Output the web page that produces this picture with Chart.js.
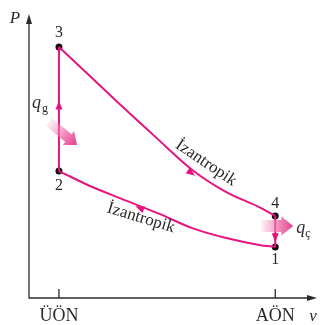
<!DOCTYPE html>
<html>
<head>
<meta charset="utf-8">
<script src="https://cdn.jsdelivr.net/npm/chart.js@4.4.1/dist/chart.umd.min.js"></script>
<style>
  html, body { margin: 0; padding: 0; background: #fff; }
  #wrap { width: 321px; height: 325px; }
</style>
</head>
<body>
<div id="wrap"><canvas id="cycle"></canvas></div>
<script>
// ── Otto çevrimi P-v diyagramı ──
const vTicks = [1.04, 8.55];
const vTickLabels = ['ÜÖN', 'AÖN'];

// 3 → 4 izantropik genişleme
const expV = [1.04, 2.04, 3.22, 4.36, 5.67, 6.85, 7.99, 8.55];
const expP = [8.84, 7.89, 6.76, 5.70, 4.51, 3.73, 3.20, 2.89];

// 1 → 2 izantropik sıkıştırma
const compV = [1.04, 2.04, 3.22, 4.53, 5.67, 6.85, 7.99, 8.55];
const compP = [4.47, 3.98, 3.49, 2.96, 2.46, 2.11, 1.87, 1.80];

// hal noktaları
const stateV = [8.55, 1.04, 1.04, 8.55];
const stateP = [1.80, 4.47, 8.84, 2.89];
const stateLabels = ['1', '2', '3', '4'];

// akış yönü okları (konum + yön)
const flowV = [1.04, 5.64, 8.55, 3.84];
const flowP = [6.80, 4.40, 2.12, 3.17];
const flowDv = [0, 1, 0, -1];
const flowDP = [1, -0.76, -1, 0.41];

const PINK = '#e6147f';
const INK = '#2b2b2b';
const SERIF = "'Liberation Serif', 'Times New Roman', Times, serif";

const pts = (xs, ys) => xs.map((x, i) => ({ x: x, y: ys[i] }));

function tri(ctx, x, y, ang, len, half) {
  ctx.save();
  ctx.translate(x, y);
  ctx.rotate(ang);
  ctx.beginPath();
  ctx.moveTo(len / 2, 0);
  ctx.lineTo(-len / 2, -half);
  ctx.lineTo(-len / 2, half);
  ctx.closePath();
  ctx.fill();
  ctx.restore();
}

// kalın, renk geçişli ısı okları
function heatArrow(ctx, x0, y0, x1, y1, shaft, head, headLen) {
  const ang = Math.atan2(y1 - y0, x1 - x0);
  const L = Math.hypot(x1 - x0, y1 - y0);
  ctx.save();
  ctx.translate(x0, y0);
  ctx.rotate(ang);
  const g = ctx.createLinearGradient(0, 0, L, 0);
  g.addColorStop(0, 'rgba(240, 150, 195, 0.15)');
  g.addColorStop(0.55, 'rgba(236, 110, 170, 0.8)');
  g.addColorStop(1, 'rgba(228, 60, 140, 1)');
  ctx.fillStyle = g;
  ctx.beginPath();
  ctx.moveTo(0, -shaft / 2);
  ctx.lineTo(L - headLen, -shaft / 2);
  ctx.lineTo(L - headLen, -head / 2);
  ctx.lineTo(L, 0);
  ctx.lineTo(L - headLen, head / 2);
  ctx.lineTo(L - headLen, shaft / 2);
  ctx.lineTo(0, shaft / 2);
  ctx.closePath();
  ctx.fill();
  ctx.restore();
}

const axesPlugin = {
  id: 'axesPlugin',
  beforeDatasetsDraw(chart) {
    const { ctx, chartArea: a, scales: { x } } = chart;
    ctx.save();
    ctx.strokeStyle = INK;
    ctx.fillStyle = INK;
    ctx.lineWidth = 1.3;
    ctx.beginPath();
    ctx.moveTo(a.left, a.top + 4);
    ctx.lineTo(a.left, a.bottom);
    ctx.lineTo(a.right - 4, a.bottom);
    ctx.stroke();
    tri(ctx, a.left, a.top + 5, -Math.PI / 2, 10, 3);
    tri(ctx, a.right - 5, a.bottom, 0, 10, 3);
    // ÜÖN / AÖN çentikleri
    vTicks.forEach(v => {
      const px = x.getPixelForValue(v);
      ctx.beginPath();
      ctx.moveTo(px, a.bottom);
      ctx.lineTo(px, a.bottom - 9);
      ctx.stroke();
    });
    ctx.font = 'italic 17px ' + SERIF;
    ctx.textAlign = 'center';
    ctx.textBaseline = 'alphabetic';
    ctx.fillText('P', 15, 23);
    ctx.fillText('v', a.right - 4, 321);
    ctx.restore();
  },
  afterDatasetsDraw(chart) {
    const { ctx, scales: { x, y } } = chart;
    ctx.save();
    // akış okları
    ctx.fillStyle = PINK;
    flowV.forEach((v, i) => {
      const px = x.getPixelForValue(v), py = y.getPixelForValue(flowP[i]);
      const dx = x.getPixelForValue(v + flowDv[i]) - px;
      const dy = y.getPixelForValue(flowP[i] + flowDP[i]) - py;
      tri(ctx, px, py, Math.atan2(dy, dx), 9, 3.5);
    });

    // ısı okları
    const xU = x.getPixelForValue(vTicks[0]);
    const xA = x.getPixelForValue(vTicks[1]);
    heatArrow(ctx, xU - 10, 122, xU + 18, 145, 10, 18, 11);
    heatArrow(ctx, xA - 14, 226, xA + 18, 226, 12, 19, 12);

    // hal numaraları
    ctx.fillStyle = INK;
    ctx.font = '16px ' + SERIF;
    ctx.textAlign = 'center';
    ctx.textBaseline = 'middle';
    const off = [13, 15, -14, -12];
    stateV.forEach((v, i) => {
      ctx.fillText(stateLabels[i], x.getPixelForValue(v), y.getPixelForValue(stateP[i]) + off[i]);
    });

    // q_g, q_ç
    ctx.textAlign = 'left';
    ctx.textBaseline = 'alphabetic';
    ctx.font = 'italic 18px ' + SERIF;
    ctx.fillText('q', 32, 108);
    ctx.fillText('q', xA + 21, 233);
    ctx.font = '12px ' + SERIF;
    ctx.fillText('g', 42, 112);
    ctx.fillText('ç', xA + 30, 237);

    // İzantropik yazıları
    ctx.font = '17px ' + SERIF;
    ctx.textAlign = 'center';
    ctx.textBaseline = 'middle';
    [[206, 163, 34], [141, 218, 17]].forEach(([tx, ty, deg]) => {
      ctx.save();
      ctx.translate(tx, ty);
      ctx.rotate(deg * Math.PI / 180);
      ctx.fillText('İzantropik', 0, 0);
      ctx.restore();
    });
    ctx.restore();
  }
};

new Chart(document.getElementById('cycle').getContext('2d'), {
  type: 'scatter',
  data: {
    datasets: [
      { data: pts(expV, expP), showLine: true, borderColor: PINK, borderWidth: 2, pointRadius: 0, cubicInterpolationMode: 'monotone' },
      { data: pts(compV, compP), showLine: true, borderColor: PINK, borderWidth: 2, pointRadius: 0, cubicInterpolationMode: 'monotone' },
      { data: pts([stateV[1], stateV[2]], [stateP[1], stateP[2]]), showLine: true, borderColor: PINK, borderWidth: 2, pointRadius: 0 },
      { data: pts([stateV[3], stateV[0]], [stateP[3], stateP[0]]), showLine: true, borderColor: PINK, borderWidth: 2, pointRadius: 0 },
      { data: pts(stateV, stateP), showLine: false, pointRadius: 3.5, pointBackgroundColor: '#111', pointBorderWidth: 0 }
    ]
  },
  options: {
    responsive: true,
    maintainAspectRatio: false,
    animation: false,
    events: [],
    layout: { padding: { left: 29, right: 3, top: 14, bottom: 0 } },
    plugins: { legend: { display: false }, tooltip: { enabled: false } },
    scales: {
      x: {
        type: 'linear', min: 0, max: 10,
        grid: { display: false, drawTicks: false },
        border: { display: false },
        afterBuildTicks: axis => { axis.ticks = vTicks.map(v => ({ value: v })); },
        afterFit: s => { s.height = 27; },
        ticks: {
          autoSkip: false, maxRotation: 0, padding: 7,
          color: INK,
          font: { family: SERIF, size: 18 },
          callback: (val, i) => vTickLabels[i]
        }
      },
      y: { type: 'linear', min: 0, max: 10, display: false }
    }
  },
  plugins: [axesPlugin]
});
</script>
</body>
</html>
